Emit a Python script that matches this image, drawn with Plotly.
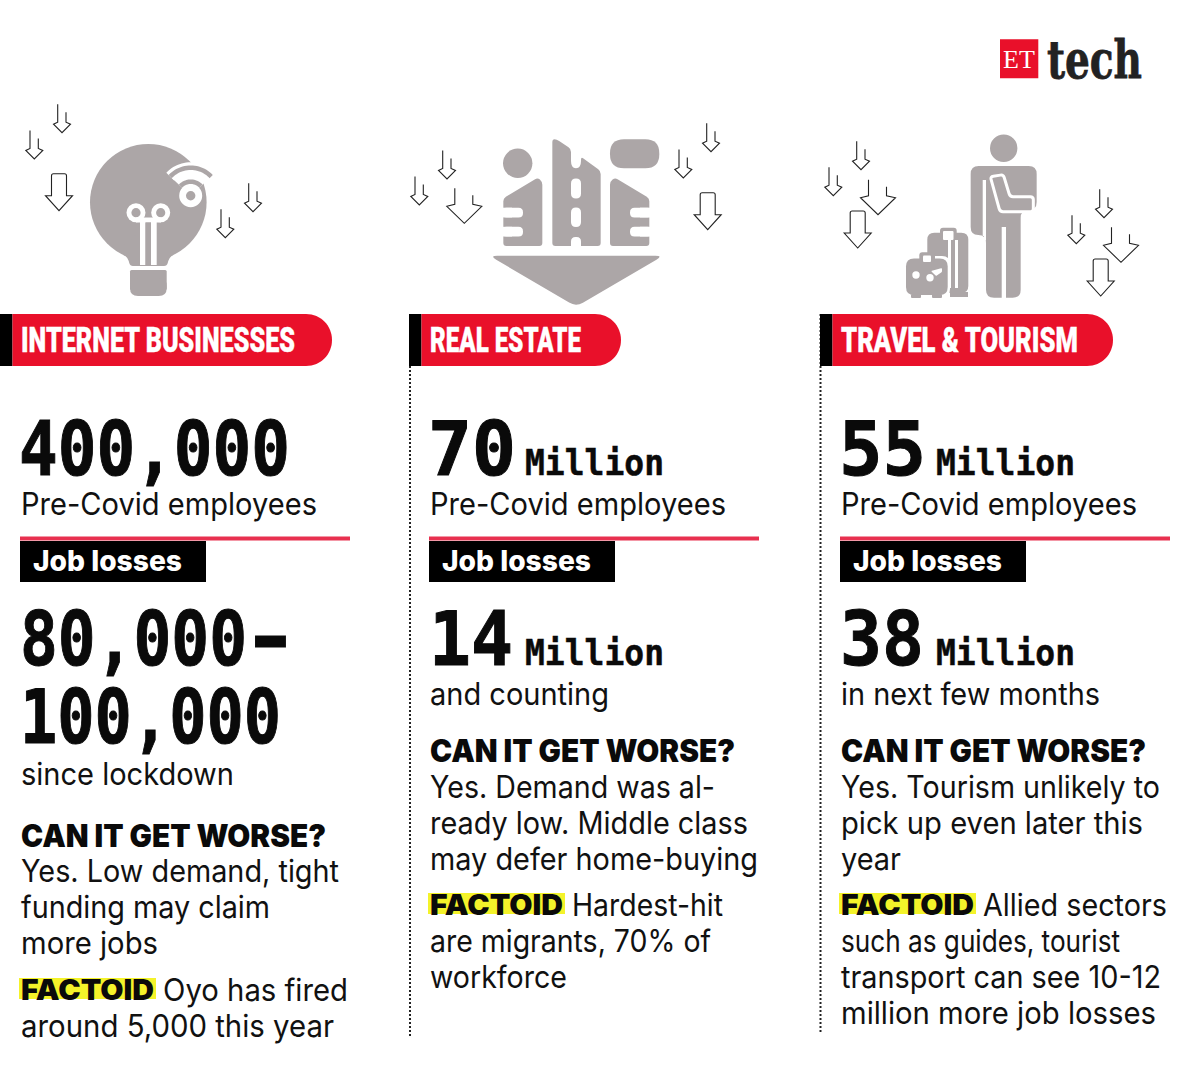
import json
import math
import plotly.graph_objects as go

# text content, one list per column
sectors = ["INTERNET BUSINESSES", "REAL ESTATE", "TRAVEL &amp; TOURISM"]
headcount = ["400,000", "70", "55"]
headcount_unit = ["", "Million", "Million"]
headcount_label = "Pre-Covid employees"
loss_title = "Job losses"
losses = [["80,000", "100,000"], ["14"], ["38"]]
losses_unit = ["", "Million", "Million"]
losses_label = ["since lockdown", "and counting", "in next few months"]
worse_title = "CAN IT GET WORSE?"
worse_text = [
    ["Yes. Low demand, tight", "funding may claim", "more jobs"],
    ["Yes. Demand was al-", "ready low. Middle class", "may defer home-buying"],
    ["Yes. Tourism unlikely to", "pick up even later this", "year"],
]
factoid_title = "FACTOID"
factoid_first = ["Oyo has fired", "Hardest-hit", "Allied sectors"]
factoid_rest = [
    ["around 5,000 this year"],
    ["are migrants, 70% of", "workforce"],
    ["such as guides, tourist", "transport can see 10-12", "million more job losses"],
]

# text widths, the installed fonts get squeezed to these
text_widths = {
    "INTERNET BUSINESSES": 274, "REAL ESTATE": 151, "TRAVEL & TOURISM": 237,
    "400,000": 271, "70": 88, "55": 87, "14": 84, "38": 84, "80,000": 227, "–": 29, "100,000": 261, "Million": 139,
    "Pre-Covid employees": 296, "Job losses": 149, "since lockdown": 213, "and counting": 179,
    "in next few months": 259, "CAN IT GET WORSE?": 305, "FACTOID": 133,
    "Yes. Low demand, tight": 318, "funding may claim": 249, "more jobs": 137, "Oyo has fired": 185,
    "around 5,000 this year": 313, "Yes. Demand was al-": 285, "ready low. Middle class": 318,
    "may defer home-buying": 328, "Hardest-hit": 151, "are migrants, 70% of": 281, "workforce": 137,
    "Yes. Tourism unlikely to": 319, "pick up even later this": 302, "year": 60, "Allied sectors": 184,
    "such as guides, tourist": 279, "transport can see 10-12": 320, "million more job losses": 315,
    "tech": 95,
}
# extra stroke where the squeezed glyphs come out too thin
text_strokes = {
    "400,000": 1, "70": 1, "55": 1, "14": 1, "38": 1, "80,000": 1, "100,000": 1, "–": 3,
    "Million": 0.5, "tech": 0.8, "INTERNET BUSINESSES": 0.4, "REAL ESTATE": 0.4, "TRAVEL & TOURISM": 0.4,
}

RED = "#e9102a"
GREY = "#aca6a7"
BODY = "Inter"
MONO = "DejaVu Sans Mono"

shapes = []
notes = []


def add_text(x, y, text, size, font=BODY, color="#111111", weight=400, anchor="left"):
    # annotations sit about 2.5px right of x because of their padding
    if anchor == "left":
        x -= 2.5
    notes.append(dict(x=x, y=y, text=text, showarrow=False, xanchor=anchor, yanchor="middle",
                      xref="x", yref="y", align="left",
                      font=dict(family=font, size=size, color=color, weight=weight)))


def add_path(path, fill=GREY, line=None, width=0, dash=None):
    shapes.append(dict(type="path", path=path, xref="x", yref="y", fillcolor=fill,
                       line=dict(color=line or "rgba(0,0,0,0)", width=width, dash=dash)))


def rounded(points, r):
    # polygon with Q corners
    n = len(points)
    out = []
    for i in range(n):
        px, py = points[i - 1]
        cx, cy = points[i]
        nx, ny = points[(i + 1) % n]
        d1 = math.hypot(px - cx, py - cy)
        d2 = math.hypot(nx - cx, ny - cy)
        r1 = min(r, d1 / 2) / d1
        r2 = min(r, d2 / 2) / d2
        a = (cx + (px - cx) * r1, cy + (py - cy) * r1)
        b = (cx + (nx - cx) * r2, cy + (ny - cy) * r2)
        out.append(("M" if i == 0 else "L") + f"{a[0]:.2f},{a[1]:.2f} Q{cx:.2f},{cy:.2f} {b[0]:.2f},{b[1]:.2f}")
    return " ".join(out) + " Z"


def rrect(x0, y0, x1, y1, r, fill=GREY):
    add_path(rounded([(x0, y0), (x1, y0), (x1, y1), (x0, y1)], r), fill)


def disc(cx, cy, r, fill=GREY):
    shapes.append(dict(type="circle", xref="x", yref="y", x0=cx - r, x1=cx + r, y0=cy - r, y1=cy + r,
                       fillcolor=fill, line=dict(width=0)))


def bar(x0, y0, x1, y1, fill):
    shapes.append(dict(type="rect", xref="x", yref="y", x0=x0, x1=x1, y0=y0, y1=y1,
                       fillcolor=fill, line=dict(width=0)))


def arc_points(cx, cy, r, a0, a1):
    # angles in degrees from straight up, clockwise
    pts = []
    for i in range(25):
        a = math.radians(a0 + (a1 - a0) * i / 24)
        pts.append(f"{cx + r * math.sin(a):.2f},{cy - r * math.cos(a):.2f}")
    return pts


def arc(cx, cy, r, a0, a1, color, width):
    add_path("M" + " L".join(arc_points(cx, cy, r, a0, a1)), "rgba(0,0,0,0)", color, width)


def small_arrow(x, y):
    add_path(f"M{x-4.3},{y-28.5} V{y-10.5} L{x-8.5},{y-8.5} L{x},{y} L{x+8.5},{y-8.5} L{x+4},{y-10.5} V{y-20.5}",
             "rgba(0,0,0,0)", "#222222", 1.1)


def big_arrow(x, y):
    add_path(f"M{x-7.5},{y-15} V{y-35} Q{x-7.5},{y-37} {x-5.5},{y-37} H{x+5.5} Q{x+7.5},{y-37} {x+7.5},{y-35} V{y-15} "
             f"L{x+13.5},{y-15} L{x},{y} L{x-13.5},{y-15} Z",
             "rgba(0,0,0,0)", "#222222", 1.1)


def wide_arrow(x, y):
    add_path(f"M{x-9.5},{y-35} V{y-19} L{x-17.5},{y-17} L{x},{y} L{x+17.5},{y-17} L{x+8.5},{y-19} V{y-28}",
             "rgba(0,0,0,0)", "#222222", 1.1)


def draw_bulb():
    disc(148.3, 202.3, 58.3)
    add_path(rounded([(118, 250), (128, 258), (130, 266), (167, 266), (169, 258), (179, 250), (148, 225)], 3))
    add_path(rounded([(130, 270), (166.7, 270), (166.7, 290), (130, 290)], 1.5))
    rrect(130, 278, 166.7, 296, 8)
    # filament
    disc(136, 212.7, 9.5, "white")
    disc(160.7, 212.7, 9.5, "white")
    disc(136, 212.7, 4.6)
    disc(160.7, 212.7, 4.6)
    bar(140, 219, 145.5, 265, "white")
    bar(151, 219, 156.7, 265, "white")
    bar(136, 217.5, 161, 222.5, "white")
    bar(145.5, 222.5, 151, 265, GREY)
    # wifi fan
    cx, cy = 190.7, 195.7
    add_path(f"M{cx},{cy} L" + " L".join(arc_points(cx, cy, 28, -47, 47)) + " Z", "white")
    arc(cx, cy, 28, -47, 47, "white", 11)
    disc(cx, cy, 11.5, "white")
    arc(cx, cy, 28, -47, 47, GREY, 4.5)
    arc(cx, cy, 14, -47, 47, GREY, 4.5)
    disc(cx, cy, 4.7)


def draw_buildings():
    ox, oy = 400, 110

    def z(points):
        return [(ox + p / 3, oy + q / 3) for p, q in points]
    disc(517.7, 163.3, 14.7)
    rrect(610, 139.3, 659.3, 168.3, 14)
    add_path(rounded(z([(457, 88), (470, 88), (513, 117), (513, 162), (520, 175), (536, 175), (543, 162), (543, 140),
                        (602, 183), (602, 408), (457, 408)]), 3))
    rrect(571, 178.5, 581, 198.5, 5, "white")
    rrect(571, 207.5, 581, 227, 5, "white")
    rrect(571, 237, 581, 247, 4.5, "white")
    bar(571, 242, 581, 247, "white")
    add_path(rounded(z([(310, 265), (413, 203), (427, 215), (427, 408), (310, 408)]), 3))
    add_path(rounded(z([(748, 265), (645, 203), (630, 215), (630, 408), (748, 408)]), 3))
    for y in (207.7, 226.8):
        rrect(502, y, 523, y + 9.7, 4.5, "white")
        bar(502, y, 512, y + 9.7, "white")
        rrect(630, y, 652, y + 9.7, 4.5, "white")
        bar(640, y, 652, y + 9.7, "white")
    add_path(rounded(z([(268, 437), (790, 437), (528, 590)]), 8))


def draw_traveller():
    ox, oy = 800, 20

    def z(points):
        return [(ox + p / 3, oy + q / 3) for p, q in points]
    disc(1003.7, 148.3, 13.7)
    add_path(rounded(z([(512, 438), (710, 438), (710, 570), (662, 570), (662, 833), (558, 833), (558, 645),
                        (512, 645)]), 8))
    bar(982.7, 180, 986, 236, "white")
    bar(984, 236, 986, 240, "white")
    bar(1001.7, 227, 1006, 300, "white")
    add_path(rounded(z([(571, 470), (610, 464), (630, 530), (700, 530), (700, 575), (600, 575)]), 3), GREY, "white", 3)
    # back suitcase
    rrect(927.3, 232.7, 968.3, 293, 7)
    rrect(940, 227.7, 956.7, 240, 3)
    rrect(943, 231, 953.5, 240, 1, "white")
    bar(948, 240, 951, 288, "white")
    bar(955, 240, 958, 288, "white")
    bar(950, 292, 968, 297, GREY)
    # front suitcase, white outline around it
    rrect(903, 256, 950, 297, 8, "white")
    rrect(906, 258.5, 947.7, 295, 8)
    rrect(919.3, 252.3, 935, 262, 3)
    rrect(923, 255.5, 931, 262, 1, "white")
    disc(916, 275, 3.7, "white")
    disc(930, 277.7, 3.7, "white")
    add_path(rounded([(931, 271), (942, 268), (942, 272), (936, 276)], 1), "white")
    rrect(911, 294, 921, 298, 1)
    rrect(932, 294, 942, 298, 1)


# arrows around the icons
for x, y in [(62, 132.7), (34.3, 159), (253, 211.7), (225.3, 237.7), (447, 179), (419.3, 205), (711, 151.7),
             (683.3, 178), (861, 169.7), (833.3, 195.7), (1104, 217.7), (1076.3, 243.7)]:
    small_arrow(x, y)
for x, y in [(59, 210.7), (707.7, 229.7), (857.7, 248), (1100.7, 296)]:
    big_arrow(x, y)
for x, y in [(464.3, 223.3), (878, 214.7), (1121, 262.3)]:
    wide_arrow(x, y)

draw_bulb()
draw_buildings()
draw_traveller()

# logo
bar(1000, 39.3, 1038.3, 78.3, RED)
add_text(1019, 59, "ET", 26, "Liberation Serif", "white", anchor="center")
add_text(1047.5, 59, "tech", 52, "DejaVu Serif", "#222222", 700)

# dotted column rules
for x, y0, y1 in [(410, 366, 1037), (820.5, 314, 1033)]:
    add_path(f"M{x},{y0} V{y1}", "rgba(0,0,0,0)", "#222222", 2, "2px,2px")

col_x = [21, 430, 841]
bar_x = [0, 409, 820]
bar_end = [332, 621, 1113]

for i in range(3):
    x = col_x[i]
    bar(bar_x[i], 314, bar_x[i] + 12.5, 366, "#000000")
    add_path(f"M{bar_x[i] + 12.5},314 H{bar_end[i] - 26} C{bar_end[i] - 11},314 {bar_end[i]},326 {bar_end[i]},340 "
             f"C{bar_end[i]},354 {bar_end[i] - 11},366 {bar_end[i] - 26},366 H{bar_x[i] + 12.5} Z", RED)
    add_text(x, 340.5, sectors[i], 35, "Roboto", "white", 900)

    add_text(x - 2, 448.5, headcount[i], 74, MONO, "#0a0a0a", 700)
    if headcount_unit[i]:
        add_text(x + 95.5, 462, headcount_unit[i], 36, MONO, "#0a0a0a", 700)
    add_text(x, 503, headcount_label, 31)

    bar(x - 1, 536.5, x + 329, 540.5, "#e8304f")
    bar(x - 1, 541, x + 185, 582, "#000000")
    add_text(x + 12, 560.5, loss_title, 29, "Inter", "white", 800)

    y = 639
    for line in losses[i]:
        add_text(x - 0.5, y, line, 74, MONO, "#0a0a0a", 700)
        y += 78
    if i == 0:
        add_text(x + 235.5, 636, "–", 74, MONO, "#0a0a0a", 700)
    if losses_unit[i]:
        add_text(x + 95.5, 652, losses_unit[i], 36, MONO, "#0a0a0a", 700)
    y = 773 if i == 0 else 693
    add_text(x, y, losses_label[i], 31)

    y = 835 if i == 0 else 750.5
    add_text(x, y, worse_title, 31, "Inter", "#0a0a0a", 900)
    y += 35.5
    for line in worse_text[i]:
        add_text(x, y, line, 31)
        y += 36

    y = 990 if i == 0 else 905
    bar(x - 2, y - 12, x + 135, y + 9, "#f4f32a")
    add_text(x, y - 1, factoid_title, 29, "Inter", "#0a0a0a", 900)
    add_text(x + 142, y - 1, factoid_first[i], 31)
    y += 35
    for line in factoid_rest[i]:
        add_text(x, y, line, 31)
        y += 36

fig = go.Figure()
fig.update_layout(
    width=1200, height=1086,
    margin=dict(l=0, r=0, t=0, b=0),
    paper_bgcolor="white", plot_bgcolor="white",
    xaxis=dict(range=[0, 1200], visible=False, fixedrange=True),
    yaxis=dict(range=[1086, 0], visible=False, fixedrange=True),
    shapes=shapes,
    annotations=notes,
    showlegend=False,
)

# no page margin, and fit the annotation texts to their read widths
fit_text = """
document.body.style.margin = '0';
var widths = %s;
var strokes = %s;
function fitText() {
  document.querySelectorAll('.annotation-text').forEach(function (t) {
    var w = widths[t.textContent];
    if (w) { t.setAttribute('textLength', w); t.setAttribute('lengthAdjust', 'spacingAndGlyphs'); }
    var s = strokes[t.textContent];
    if (s) { t.style.stroke = t.style.fill; t.style.strokeWidth = s + 'px'; }
  });
}
fitText();
setTimeout(fitText, 50);
""" % (json.dumps(text_widths, ensure_ascii=False), json.dumps(text_strokes, ensure_ascii=False))

fig.write_html("out.html", config=dict(displayModeBar=False), post_script=fit_text)
